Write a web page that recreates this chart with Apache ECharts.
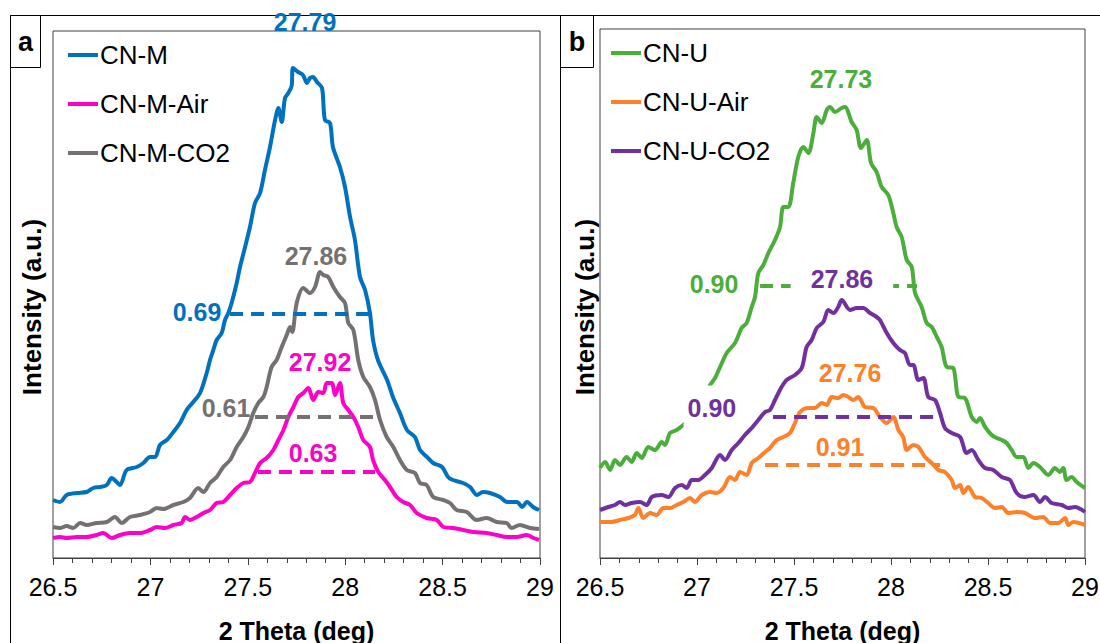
<!DOCTYPE html>
<html>
<head>
<meta charset="utf-8">
<script src="https://cdn.jsdelivr.net/npm/echarts@6/dist/echarts.min.js"></script>
<style>
html,body{margin:0;padding:0;background:#fff;}
#chart{width:1100px;height:643px;}
</style>
</head>
<body>
<div id="chart"></div>
<script>
// ---------------- DATA ----------------
const xTickMin = 26.5, xTickMax = 29, xTickStep = 0.5;

// Panel a
const namesA = ['CN-M', 'CN-M-Air', 'CN-M-CO2'];
const cnM = [[26.500,58],[26.536,56],[26.570,63],[26.622,65],[26.673,66],[26.707,70],[26.741,71],[26.776,73],[26.801,80],[26.827,76],[26.844,73],[26.878,88],[26.930,91],[26.964,95],[26.998,101],[27.024,101],[27.049,113],[27.084,118],[27.118,126],[27.152,135],[27.186,148],[27.220,156],[27.255,165],[27.289,185],[27.306,198],[27.323,208],[27.340,218],[27.366,225],[27.383,238],[27.400,245],[27.417,255],[27.443,275],[27.460,291],[27.486,311],[27.511,331],[27.537,355],[27.563,365],[27.588,388],[27.614,411],[27.640,438],[27.657,450],[27.674,436],[27.691,460],[27.708,465],[27.725,472],[27.732,490],[27.758,486],[27.783,483],[27.804,475],[27.819,480],[27.835,481],[27.855,476],[27.881,470],[27.896,438],[27.922,435],[27.937,411],[27.973,391],[27.999,371],[28.025,341],[28.050,318],[28.076,281],[28.102,268],[28.127,245],[28.143,218],[28.168,198],[28.215,178],[28.245,161],[28.281,145],[28.317,128],[28.358,121],[28.384,108],[28.420,101],[28.451,95],[28.497,91],[28.528,81],[28.553,78],[28.605,75],[28.641,71],[28.677,63],[28.707,66],[28.743,65],[28.795,61],[28.831,56],[28.882,56],[28.908,51],[28.933,56],[28.964,51],[28.995,48]];
const cnMAir = [[26.500,20],[26.536,21],[26.570,20],[26.622,21],[26.673,21],[26.724,23],[26.758,25],[26.801,20],[26.844,23],[26.895,25],[26.947,25],[26.998,28],[27.032,31],[27.075,30],[27.118,33],[27.160,35],[27.178,41],[27.203,38],[27.238,41],[27.272,45],[27.306,48],[27.340,55],[27.374,56],[27.409,63],[27.443,70],[27.477,75],[27.511,76],[27.537,85],[27.563,95],[27.597,100],[27.631,108],[27.657,118],[27.683,128],[27.708,141],[27.734,151],[27.759,161],[27.785,165],[27.811,170],[27.836,158],[27.862,166],[27.888,165],[27.905,175],[27.931,175],[27.948,163],[27.973,175],[27.990,155],[28.016,148],[28.042,141],[28.067,131],[28.093,118],[28.127,111],[28.143,98],[28.170,86],[28.204,78],[28.230,71],[28.264,61],[28.298,56],[28.333,53],[28.367,45],[28.418,40],[28.470,38],[28.504,31],[28.555,30],[28.606,28],[28.658,26],[28.726,25],[28.778,23],[28.829,21],[28.880,21],[28.932,23],[28.966,20],[28.995,18]];
const cnMCO2 = [[26.500,31],[26.536,30],[26.570,32],[26.604,30],[26.639,35],[26.673,33],[26.724,35],[26.776,36],[26.818,41],[26.853,35],[26.895,41],[26.947,43],[26.998,46],[27.032,50],[27.066,49],[27.118,53],[27.169,56],[27.203,60],[27.246,70],[27.272,66],[27.306,75],[27.340,81],[27.374,91],[27.409,98],[27.443,111],[27.477,121],[27.503,131],[27.528,145],[27.554,155],[27.580,161],[27.597,171],[27.622,191],[27.648,198],[27.674,211],[27.700,223],[27.717,231],[27.728,226],[27.751,255],[27.785,270],[27.819,265],[27.845,271],[27.871,286],[27.888,283],[27.913,281],[27.939,271],[27.973,261],[27.999,255],[28.016,235],[28.042,228],[28.067,198],[28.093,181],[28.127,171],[28.153,158],[28.179,138],[28.213,121],[28.247,111],[28.281,98],[28.316,88],[28.358,85],[28.384,75],[28.418,73],[28.452,61],[28.504,58],[28.538,55],[28.572,48],[28.624,46],[28.675,38],[28.726,40],[28.778,36],[28.829,35],[28.855,30],[28.897,33],[28.949,30],[28.995,29]];
// peak labels: [text, x, y]
const peakLabelsA = [['27.79',27.794,536],['27.92',27.871,196],['27.86',27.850,302]];
// FWHM labels: [text, x, y]
const fwhmLabelsA = [['0.69',27.239,246],['0.63',27.835,105],['0.61',27.388,150]];
// FWHM dashed lines: [xStart, xEnd, y]
const fwhmLinesA = [[27.409,28.138,244],[27.552,28.153,86],[27.537,28.179,141]];

// Panel b
const namesB = ['CN-U', 'CN-U-Air', 'CN-U-CO2'];
const cnU = [[26.500,90],[26.526,96],[26.552,88],[26.577,98],[26.603,93],[26.637,101],[26.663,96],[26.689,105],[26.715,100],[26.749,111],[26.784,108],[26.818,116],[26.835,113],[26.861,125],[26.895,128],[26.929,133],[26.955,138],[26.985,147],[27.015,156],[27.045,166],[27.067,173],[27.093,180],[27.119,191],[27.153,205],[27.196,215],[27.230,230],[27.256,235],[27.282,251],[27.299,261],[27.316,285],[27.342,293],[27.368,305],[27.402,318],[27.428,331],[27.445,351],[27.471,351],[27.496,375],[27.522,401],[27.548,411],[27.574,405],[27.600,425],[27.617,441],[27.643,435],[27.669,448],[27.686,451],[27.711,446],[27.746,450],[27.763,451],[27.797,436],[27.823,428],[27.845,410],[27.875,418],[27.897,395],[27.926,386],[27.952,371],[27.986,363],[28.012,345],[28.029,331],[28.055,321],[28.081,298],[28.107,291],[28.124,265],[28.158,251],[28.184,235],[28.210,231],[28.236,221],[28.261,211],[28.287,191],[28.321,190],[28.347,161],[28.381,160],[28.416,141],[28.442,136],[28.459,140],[28.485,131],[28.519,123],[28.545,120],[28.571,118],[28.596,115],[28.622,108],[28.648,101],[28.682,101],[28.708,90],[28.734,95],[28.768,91],[28.811,83],[28.845,90],[28.871,86],[28.888,90],[28.905,78],[28.931,81],[28.957,76],[29.000,70]];
const cnUAir = [[26.500,36],[26.560,36],[26.603,38],[26.646,40],[26.680,43],[26.698,50],[26.723,40],[26.758,45],[26.792,43],[26.826,50],[26.861,50],[26.895,53],[26.929,56],[26.964,60],[26.990,56],[27.024,63],[27.067,66],[27.101,65],[27.136,70],[27.170,81],[27.196,78],[27.222,86],[27.256,83],[27.282,95],[27.316,100],[27.351,106],[27.376,110],[27.411,118],[27.445,121],[27.479,125],[27.505,135],[27.531,146],[27.574,150],[27.608,150],[27.643,155],[27.669,153],[27.694,161],[27.728,160],[27.754,163],[27.780,161],[27.806,158],[27.831,161],[27.866,151],[27.909,150],[27.943,141],[27.978,135],[28.012,141],[28.038,128],[28.063,121],[28.081,108],[28.115,113],[28.141,111],[28.175,101],[28.210,95],[28.244,88],[28.278,86],[28.313,78],[28.330,70],[28.356,73],[28.373,65],[28.398,71],[28.433,61],[28.467,60],[28.501,55],[28.536,50],[28.571,51],[28.605,45],[28.648,46],[28.691,45],[28.742,40],[28.785,41],[28.820,35],[28.862,35],[28.897,40],[28.914,33],[28.940,36],[29.000,33]];
const cnUCO2 = [[26.500,48],[26.543,51],[26.577,53],[26.603,56],[26.629,53],[26.663,55],[26.706,56],[26.741,53],[26.767,61],[26.818,63],[26.852,61],[26.887,70],[26.921,73],[26.947,70],[26.973,78],[27.007,78],[27.041,83],[27.076,90],[27.119,103],[27.144,98],[27.179,108],[27.213,115],[27.247,123],[27.282,130],[27.316,138],[27.351,146],[27.376,148],[27.402,158],[27.436,171],[27.462,178],[27.505,183],[27.540,190],[27.565,211],[27.591,218],[27.617,230],[27.651,236],[27.677,248],[27.703,245],[27.728,251],[27.746,258],[27.789,248],[27.823,250],[27.857,250],[27.892,245],[27.926,241],[27.943,238],[27.978,225],[28.012,215],[28.046,208],[28.072,205],[28.098,193],[28.115,193],[28.141,178],[28.167,180],[28.192,161],[28.227,158],[28.253,145],[28.278,130],[28.313,125],[28.356,121],[28.390,105],[28.416,108],[28.450,98],[28.485,90],[28.527,88],[28.571,81],[28.613,78],[28.648,65],[28.691,61],[28.734,63],[28.768,56],[28.794,61],[28.828,55],[28.880,53],[28.914,50],[28.948,51],[29.000,46]];
const peakLabelsB = [['27.73',27.742,479],['27.76',27.789,185],['27.86',27.747,279]];
const fwhmLabelsB = [['0.90',27.088,274],['0.91',27.737,111],['0.90',27.077,150]];
const fwhmLinesB = [[27.325,28.134,272],[27.351,28.253,93],[27.392,28.237,141]];

// ---------------- STYLE ----------------
const FONT = '"Liberation Sans", Arial, sans-serif';
const colorsA = ['#0070C0', '#FF00C8', '#767171'];
const colorsB = ['#4BAE3A', '#FF8028', '#7030A0'];
const frameColor = '#404040';

const panels = [
  {names: namesA, data: [cnM, cnMAir, cnMCO2], colors: colorsA, peaks: peakLabelsA, fwhmL: fwhmLabelsA, fwhm: fwhmLinesA,
   grid: {left: 53, right: 560, top: 31, bottom: 85}, yMax: 527, legend: {left: 63, top: 37}},
  {names: namesB, data: [cnU, cnUAir, cnUCO2], colors: colorsB, peaks: peakLabelsB, fwhmL: fwhmLabelsB, fwhm: fwhmLinesB,
   grid: {left: 600, right: 15, top: 29, bottom: 85}, yMax: 529, legend: {left: 606, top: 35}}
];

const grids = [], xAxes = [], yAxes = [], legends = [], series = [];
panels.forEach((p, gi) => {
  grids.push(Object.assign({show: true, borderColor: frameColor, borderWidth: 1, backgroundColor: 'transparent',
    containLabel: false, outerBoundsMode: 'none'}, p.grid));
  xAxes.push({
    gridIndex: gi, type: 'value', min: xTickMin, max: xTickMax, interval: xTickStep,
    axisLine: {show: true, onZero: false, lineStyle: {color: frameColor, width: 1}},
    axisTick: {show: true, length: 7, lineStyle: {color: frameColor}},
    minorTick: {show: true, splitNumber: 5, length: 5, lineStyle: {color: frameColor}},
    splitLine: {show: false}, minorSplitLine: {show: false},
    axisLabel: {fontSize: 25, color: '#000', margin: 16, fontFamily: FONT},
    name: '2 Theta (deg)', nameLocation: 'middle', nameGap: 60,
    nameTextStyle: {fontSize: 25, fontWeight: 'bold', color: '#000', fontFamily: FONT}
  });
  yAxes.push({
    gridIndex: gi, type: 'value', min: 0, max: p.yMax,
    axisLine: {show: false}, axisTick: {show: false}, axisLabel: {show: false}, splitLine: {show: false}
  });
  legends.push({
    data: p.names, orient: 'vertical', left: p.legend.left, top: p.legend.top,
    icon: 'rect', itemWidth: 30, itemHeight: 4, itemGap: 23,
    textStyle: {fontSize: 26, color: '#000', fontFamily: FONT, padding: [0, 0, 0, -3]},
    selectedMode: false
  });
  p.names.forEach((nm, si) => {
    series.push({
      name: nm, type: 'line', xAxisIndex: gi, yAxisIndex: gi, data: p.data[si],
      showSymbol: false, symbol: 'none', smooth: 0.3,
      lineStyle: {color: p.colors[si], width: 4}, itemStyle: {color: p.colors[si]},
      z: 2, silent: true
    });
    const f = p.fwhm[si];
    series.push({
      name: nm + ' FWHM', type: 'line', xAxisIndex: gi, yAxisIndex: gi,
      data: [[f[0], f[2]], [f[1], f[2]]], showSymbol: false, symbol: 'none',
      lineStyle: {color: p.colors[si], width: 4, type: [13, 8], opacity: 1}, z: 3, silent: true
    });
  });
  const labelData = [];
  p.peaks.forEach((l, si) => labelData.push({value: [l[1], l[2]], t: l[0], c: p.colors[si], peak: true, si: si}));
  p.fwhmL.forEach((l, si) => labelData.push({value: [l[1], l[2]], t: l[0], c: p.colors[si], peak: false, si: si}));
  series.push({
    type: 'scatter', xAxisIndex: gi, yAxisIndex: gi, symbolSize: 1, clip: false, z: 10, silent: true,
    itemStyle: {color: 'rgba(0,0,0,0)', opacity: 1},
    data: labelData.map(d => {
      const bgPad = (gi === 1) ? (d.peak && d.si === 2 ? [0, 20] : (!d.peak && d.si === 2 ? [10, 4] : [0, 2])) : [0, 0];
      return {
        value: d.value,
        itemStyle: {opacity: 1},
        label: {
          show: true, position: 'inside', formatter: d.t, color: d.c, opacity: 1,
          fontSize: 25, fontWeight: 'bold', fontFamily: FONT,
          backgroundColor: gi === 1 ? '#fff' : 'transparent', padding: bgPad
        }
      };
    })
  });
});

const chart = echarts.init(document.getElementById('chart'), null, {renderer: 'svg'});
chart.setOption({
  animation: false,
  backgroundColor: '#fff',
  grid: grids, xAxis: xAxes, yAxis: yAxes, legend: legends, series: series,
  graphic: [
    {type: 'line', shape: {x1: 10, y1: 15.5, x2: 1100, y2: 15.5}, style: {stroke: '#000', lineWidth: 1}},
    {type: 'line', shape: {x1: 10.5, y1: 15, x2: 10.5, y2: 643}, style: {stroke: '#000', lineWidth: 1}},
    {type: 'line', shape: {x1: 560.5, y1: 15, x2: 560.5, y2: 643}, style: {stroke: '#000', lineWidth: 1}},
    {type: 'rect', shape: {x: 10.5, y: 15.5, width: 30, height: 52}, style: {fill: '#fff', stroke: '#000', lineWidth: 1}},
    {type: 'text', x: 25.5, y: 42, style: {text: 'a', font: 'bold 27px ' + FONT, fill: '#000', textAlign: 'center', textVerticalAlign: 'middle'}},
    {type: 'rect', shape: {x: 560.5, y: 15.5, width: 33, height: 52}, style: {fill: '#fff', stroke: '#000', lineWidth: 1}},
    {type: 'text', x: 577, y: 42, style: {text: 'b', font: 'bold 27px ' + FONT, fill: '#000', textAlign: 'center', textVerticalAlign: 'middle'}},
    {type: 'text', x: 32, y: 307, rotation: Math.PI / 2, style: {text: 'Intensity (a.u.)', font: 'bold 26px ' + FONT, fill: '#000', textAlign: 'center', textVerticalAlign: 'middle'}},
    {type: 'text', x: 585, y: 307, rotation: Math.PI / 2, style: {text: 'Intensity (a.u.)', font: 'bold 26px ' + FONT, fill: '#000', textAlign: 'center', textVerticalAlign: 'middle'}}
  ]
});
</script>
</body>
</html>
